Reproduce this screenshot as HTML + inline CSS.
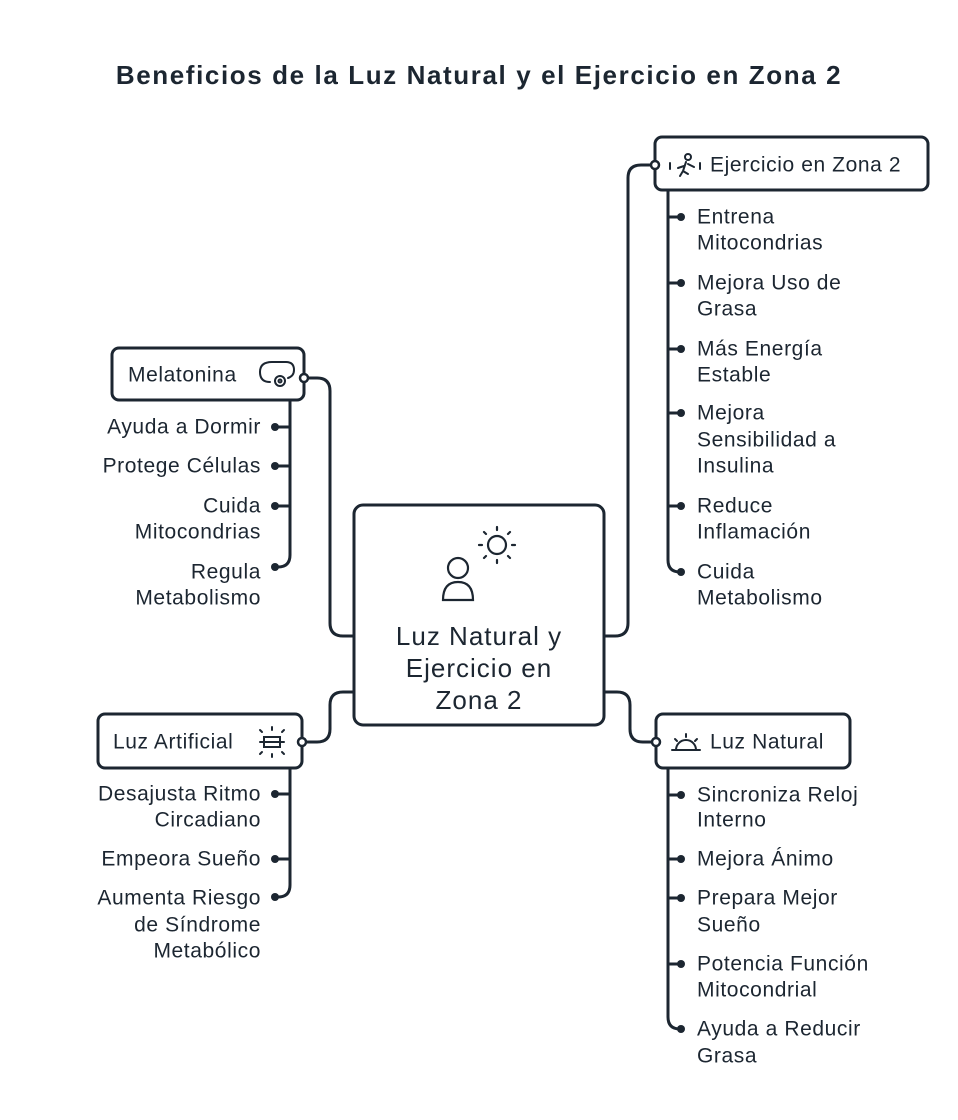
<!DOCTYPE html><html><head><meta charset="utf-8"><style>body{margin:0;background:#fff}svg{display:block}text{font-family:"Liberation Sans",sans-serif;fill:#1c2631;font-size:21px;letter-spacing:0.6px;dominant-baseline:central}</style></head><body>
<svg width="958" height="1120" viewBox="0 0 958 1120" fill="none" stroke="#1c2631" stroke-width="3" stroke-linecap="round">
<text x="479" y="75" text-anchor="middle" style="font-weight:bold;font-size:26px;letter-spacing:1.6px" stroke="none">Beneficios de la Luz Natural y el Ejercicio en Zona 2</text>
<path d="M604 636 H615 Q628 636 628 623 V178 Q628 165 641 165 H655"/>
<path d="M354 636 H343 Q330 636 330 623 V391 Q330 378 317 378 H304"/>
<path d="M354 692 H343 Q330 692 330 705 V729 Q330 742 317 742 H302"/>
<path d="M604 692 H617 Q630 692 630 705 V729 Q630 742 643 742 H656"/>
<rect x="354" y="505" width="250" height="220" rx="9" fill="#fff"/>
<rect x="655" y="137" width="273" height="53" rx="7" fill="#fff"/>
<rect x="112" y="348" width="192" height="52" rx="7" fill="#fff"/>
<rect x="98" y="714" width="204" height="54" rx="7" fill="#fff"/>
<rect x="656" y="714" width="194" height="54" rx="7" fill="#fff"/>
<g fill="#fff" stroke-width="2.5"><circle cx="655" cy="165" r="4"/><circle cx="304" cy="378" r="4"/><circle cx="302" cy="742" r="4"/><circle cx="656" cy="742" r="4"/></g>
<path d="M668 190 V560 Q668 572 680 572"/>
<path d="M290 400 V555 Q290 567 278 567"/>
<path d="M290 768 V885 Q290 897 278 897"/>
<path d="M668 768 V1017 Q668 1029 680 1029"/>
<g stroke-width="3">
<path d="M668 217H680M668 283H680M668 349H680M668 413H680M668 506H680"/>
<path d="M290 427H276M290 466H276M290 506H276"/>
<path d="M290 794H276M290 859H276"/>
<path d="M668 795H680M668 859H680M668 898H680M668 964H680"/>
</g>
<g fill="#1c2631" stroke="none">
<circle cx="681" cy="217" r="4"/><circle cx="681" cy="283" r="4"/><circle cx="681" cy="349" r="4"/><circle cx="681" cy="413" r="4"/><circle cx="681" cy="506" r="4"/><circle cx="681" cy="572" r="4"/>
<circle cx="275" cy="427" r="4"/><circle cx="275" cy="466" r="4"/><circle cx="275" cy="506" r="4"/><circle cx="275" cy="567" r="4"/>
<circle cx="275" cy="794" r="4"/><circle cx="275" cy="859" r="4"/><circle cx="275" cy="897" r="4"/>
<circle cx="681" cy="795" r="4"/><circle cx="681" cy="859" r="4"/><circle cx="681" cy="898" r="4"/><circle cx="681" cy="964" r="4"/><circle cx="681" cy="1029" r="4"/>
</g>
<g stroke-width="2.2"><circle cx="458" cy="568" r="10"/><path d="M443 600 Q443 582 458 582 Q473 582 473 600 Z"/><circle cx="497" cy="545" r="9"/><path d="M497 530v-3M497 560v3M482 545h-3M512 545h3M486 534l-2-2M508 534l2-2M486 556l-2 2M508 556l2 2"/></g>
<g stroke-width="2"><path d="M260 372 Q260 362 272 362 H286 Q294 362 294 370 Q294 376 288 378"/><path d="M260 372 Q260 382 270 382"/><circle cx="280" cy="381" r="5"/><circle cx="280" cy="381" r="1.5"/>
<path d="M260 742h24M264 737h16v10h-16zM272 730v-3M272 754v3M262 732l-2-2M282 732l2-2M262 752l-2 2M282 752l2 2"/>
<path d="M672 750h28M676 750a10 10 0 0 1 20 0M686 734v3M675 739l2 2M697 739l-2 2"/>
<circle cx="688" cy="157" r="3"/><path d="M686 162l-3 9 5 3M684 166l-6 2M688 164l6 3M683 171l-3 5M670 163v6M700 163v6"/></g>
<g stroke="none">
<text x="479" y="636" text-anchor="middle" style="font-size:26px;letter-spacing:1px">Luz Natural y</text>
<text x="479" y="668" text-anchor="middle" style="font-size:26px;letter-spacing:1px">Ejercicio en</text>
<text x="479" y="700" text-anchor="middle" style="font-size:26px;letter-spacing:1px">Zona 2</text>
<text x="710" y="165">Ejercicio en Zona 2</text>
<text x="128" y="375">Melatonina</text>
<text x="113" y="742">Luz Artificial</text>
<text x="710" y="742">Luz Natural</text>
<g>
<text x="697" y="217">Entrena</text><text x="697" y="243">Mitocondrias</text>
<text x="697" y="283">Mejora Uso de</text><text x="697" y="309">Grasa</text>
<text x="697" y="349">Más Energía</text><text x="697" y="375">Estable</text>
<text x="697" y="413">Mejora</text><text x="697" y="440">Sensibilidad a</text><text x="697" y="466">Insulina</text>
<text x="697" y="506">Reduce</text><text x="697" y="532">Inflamación</text>
<text x="697" y="572">Cuida</text><text x="697" y="598">Metabolismo</text>
<text x="697" y="795">Sincroniza Reloj</text><text x="697" y="820">Interno</text>
<text x="697" y="859">Mejora Ánimo</text>
<text x="697" y="898">Prepara Mejor</text><text x="697" y="925">Sueño</text>
<text x="697" y="964">Potencia Función</text><text x="697" y="990">Mitocondrial</text>
<text x="697" y="1029">Ayuda a Reducir</text><text x="697" y="1056">Grasa</text>
</g>
<g text-anchor="end">
<text x="261" y="427">Ayuda a Dormir</text>
<text x="261" y="466">Protege Células</text>
<text x="261" y="506">Cuida</text><text x="261" y="532">Mitocondrias</text>
<text x="261" y="572">Regula</text><text x="261" y="598">Metabolismo</text>
<text x="261" y="794">Desajusta Ritmo</text><text x="261" y="820">Circadiano</text>
<text x="261" y="859">Empeora Sueño</text>
<text x="261" y="898">Aumenta Riesgo</text><text x="261" y="925">de Síndrome</text><text x="261" y="951">Metabólico</text>
</g>
</g>
</svg></body></html>
